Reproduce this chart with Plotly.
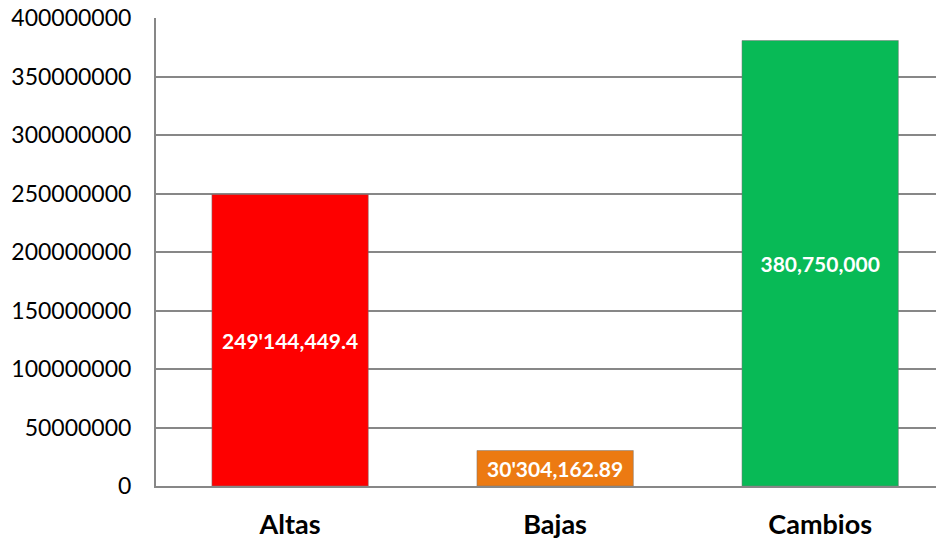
import plotly.graph_objects as go

categories = ["Altas", "Bajas", "Cambios"]
values = [249144449.4, 30304162.89, 380750000]
value_labels = ["249'144,449.4", "30'304,162.89", "380,750,000"]
bar_colors = ["#FE0000", "#EC7A12", "#08BA56"]
y_ticks = [0, 50000000, 100000000, 150000000, 200000000, 250000000, 300000000, 350000000, 400000000]

fig = go.Figure()
fig.add_trace(go.Bar(
    x=categories,
    y=values,
    text=value_labels,
    textposition="inside",
    insidetextanchor="middle",
    textangle=0,
    textfont=dict(family="Lato, Open Sans, sans-serif", size=21, color="white", weight="bold"),
    marker=dict(color=bar_colors, line=dict(color="rgba(120,120,120,0.5)", width=1)),
    width=0.59,
))

fig.update_layout(
    width=938,
    height=544,
    margin=dict(l=156, r=2, t=18, b=58),
    plot_bgcolor="white",
    paper_bgcolor="white",
    showlegend=False,
    font=dict(family="Lato, Open Sans, sans-serif", color="#000000"),
)
fig.update_xaxes(
    range=[-0.506, 2.437],
    showline=True,
    linecolor="#878787",
    linewidth=2,
    ticks="",
    tickfont=dict(size=27, weight="bold"),
    ticklabelstandoff=14,
    automargin=False,
)
fig.update_yaxes(
    range=[0, 400000000],
    tickvals=y_ticks,
    tickformat="d",
    showgrid=True,
    gridcolor="#878787",
    gridwidth=1.5,
    showline=True,
    linecolor="#878787",
    linewidth=2,
    zeroline=False,
    tickfont=dict(size=23),
    ticklabelstandoff=18,
    automargin=False,
)

# page has a default 8px body margin; drop it so the figure fills the window
fig.write_html(
    "out.html",
    config={"displayModeBar": False},
    post_script="document.body.style.margin='0';",
)
